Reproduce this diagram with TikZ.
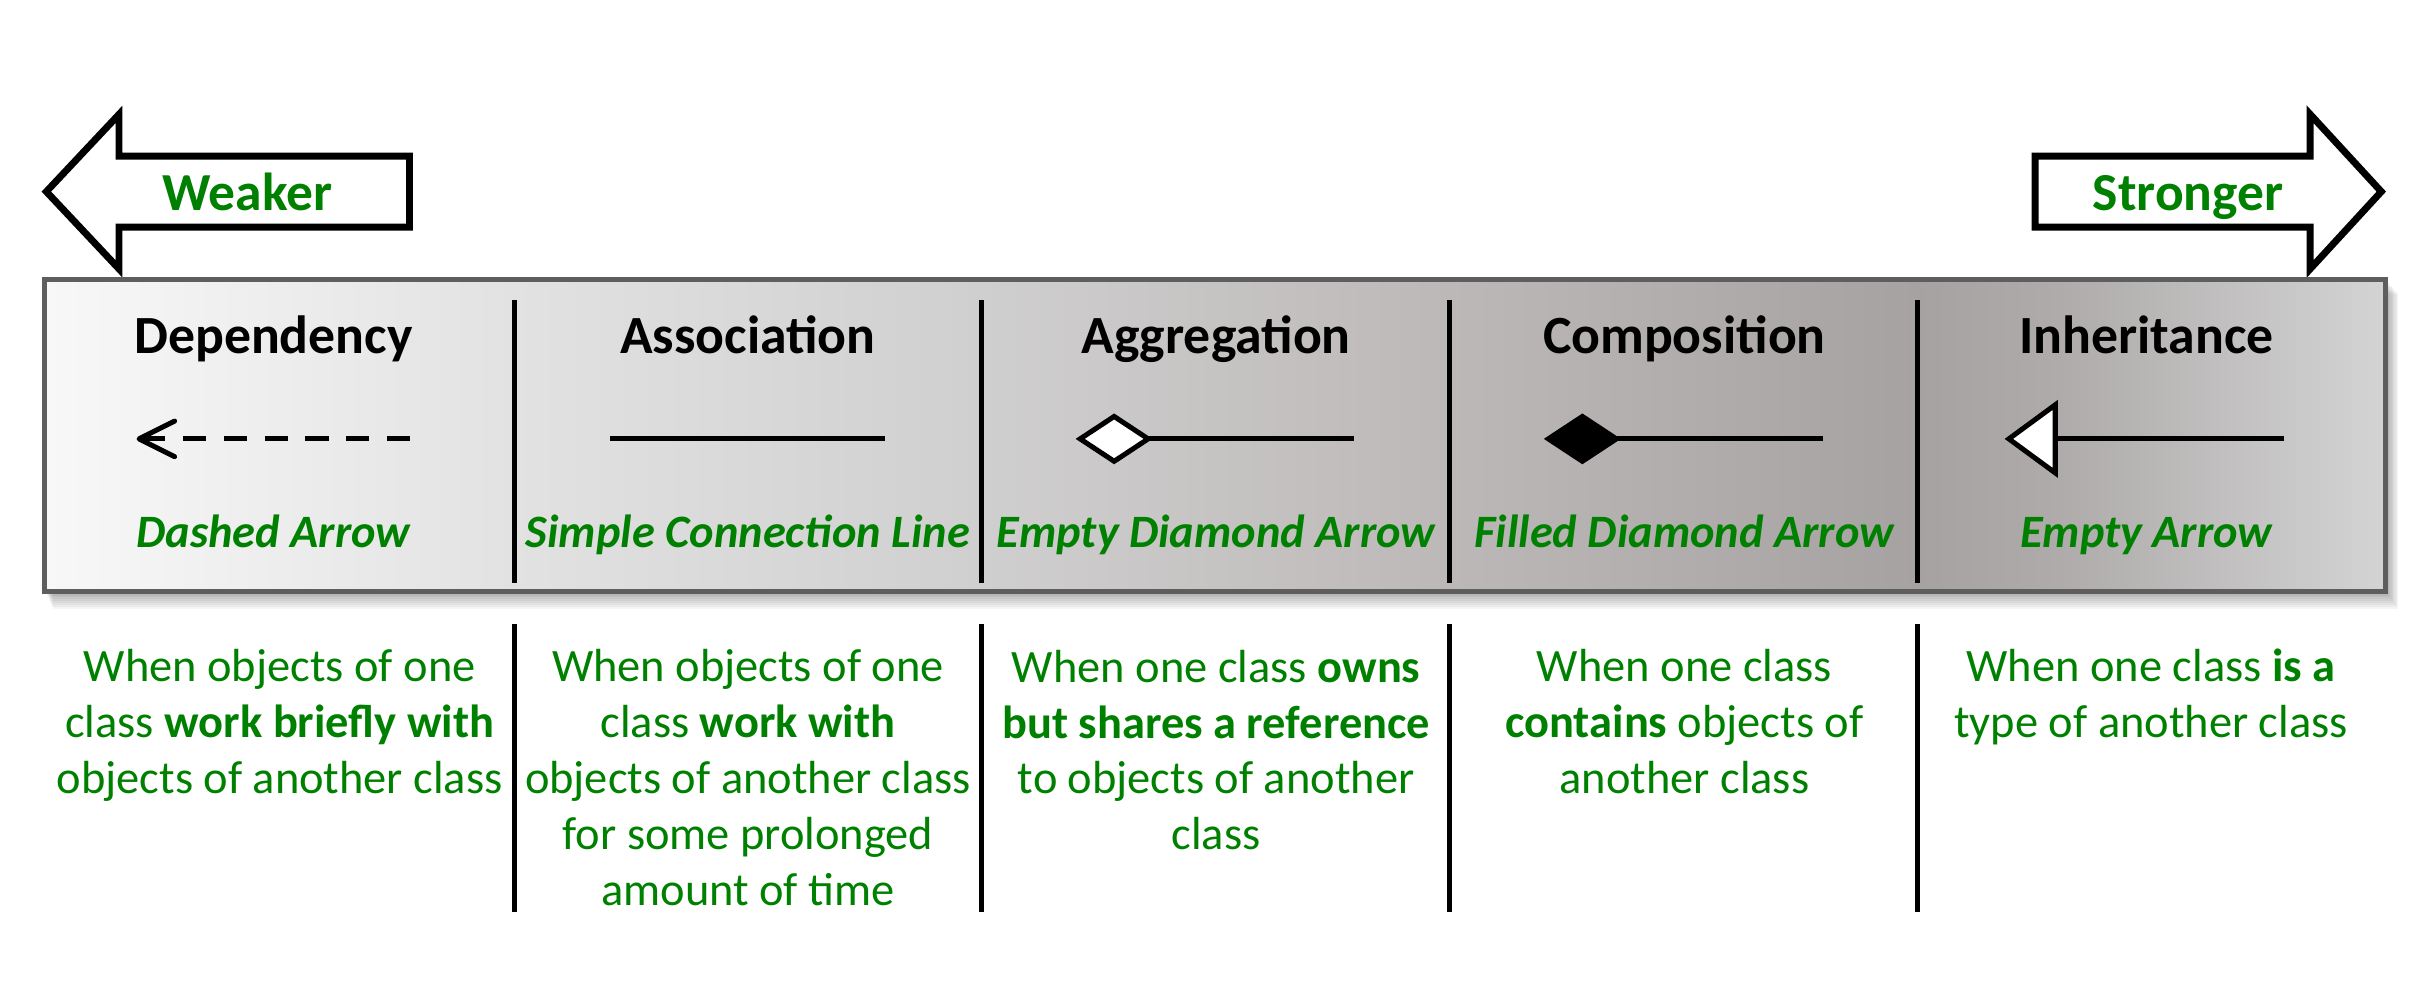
\documentclass[tikz,border=0pt]{standalone}
\usepackage{fontspec}
\setmainfont{Carlito}
\definecolor{relgreen}{HTML}{008000}
\definecolor{barborder}{HTML}{5E5E5E}
\definecolor{shA}{HTML}{F8F8F8}
\definecolor{shB}{HTML}{E2E2E2}
\definecolor{shC}{HTML}{D0CFCF}
\definecolor{shD}{HTML}{BCB8B7}
\definecolor{shE}{HTML}{A6A2A1}
\definecolor{shF}{HTML}{AEABAA}
\definecolor{shG}{HTML}{D4D4D4}
\pgfdeclarehorizontalshading{strengthbar}{100bp}{color(0bp)=(shA); color(25bp)=(shA); color(35bp)=(shB); color(45bp)=(shC); color(55bp)=(shD); color(65bp)=(shE); color(68bp)=(shF); color(75bp)=(shG); color(100bp)=(shG)}
\newcommand\relTitle{\fontsize{19.8}{23}\selectfont\bfseries}
\newcommand\relKind{\fontsize{17.1}{20.6}\selectfont\bfseries\itshape}
\newcommand\relDesc{\fontsize{17.1}{20.6}\selectfont}
\newcommand\relSide{\fontsize{19.7}{23}\selectfont\bfseries}

\begin{document}
\begin{tikzpicture}[x=0.2mm, y=-0.2mm,
	reltitle/.style={font=\relTitle, anchor=base, inner sep=0pt},
	relkind/.style={font=\relKind, text=relgreen, anchor=base, inner sep=0pt},
	reldesc/.style={font=\relDesc, text=relgreen, align=center, anchor=base, inner sep=0pt},
	relside/.style={font=\relSide, text=relgreen, anchor=base, inner sep=0pt},
	bigarrow/.style={draw=black, fill=white, line width=0.9mm, line join=miter},
	divider/.style={line width=0.6mm},
	sym/.style={line width=0.65mm}]
			%%%%% START %%%%%
			\useasboundingbox (0,0) rectangle (1568,647);
			
			% weaker / stronger
			\draw[bigarrow] (30,124) -- (77,74) -- (77,101) -- (265,101) -- (265,147) -- (77,147) -- (77,174) -- cycle;
			\node[relside] (weaker) at (160,136) {Weaker};
			\draw[bigarrow] (1541,124) -- (1495,74) -- (1495,101) -- (1317,101) -- (1317,147) -- (1495,147) -- (1495,174) -- cycle;
			\node[relside] (stronger) at (1416,136) {Stronger};
			
			% bar with soft shadow
			\foreach \d in {2,...,9}
				\fill[black, opacity=0.04] (29+\d*0.6, 181+\d) rectangle (1544+\d*0.9, 383+\d*1.2);
			\shade[shading=strengthbar] (29,181) rectangle (1544,383);
			\draw[barborder, line width=0.65mm] (29,181) rectangle (1544,383);
			
			\draw[divider] (333,194) -- (333,377);
			\draw[divider] (635,194) -- (635,377);
			\draw[divider] (938,194) -- (938,377);
			\draw[divider] (1241,194) -- (1241,377);
			
			\draw[divider] (333,404) -- (333,590);
			\draw[divider] (635,404) -- (635,590);
			\draw[divider] (938,404) -- (938,590);
			\draw[divider] (1241,404) -- (1241,590);
			
			% titles
			\node[reltitle] (dep) at (177,229) {Dependency};
			\node[reltitle] (asc) at (484,229) {Association};
			\node[reltitle] (agg) at (787,229) {Aggregation};
			\node[reltitle] (cmp) at (1090,229) {Composition};
			\node[reltitle] (inh) at (1389,229) {Inheritance};
			
			% symbols
			\draw[sym, dash pattern=on 3mm off 2.28mm] (92,284) -- (265.4,284);
			\draw[sym, line cap=round, line join=round] (113,272.5) -- (90,284) -- (113,295.5);
			
			\draw[sym] (395,284) -- (573,284);
			
			\draw[sym] (743,284) -- (876,284);
			\draw[sym, fill=white] (699,284) -- (721,269.5) -- (743,284) -- (721,298.5) -- cycle;
			
			\draw[sym] (1046,284) -- (1180,284);
			\draw[sym, fill=black] (1002,284) -- (1024,269.5) -- (1046,284) -- (1024,298.5) -- cycle;
			
			\draw[sym] (1330,284) -- (1478,284);
			\draw[sym, fill=white] (1300,284) -- (1330,262) -- (1330,306) -- cycle;
			
			% kinds of line
			\node[relkind] (dep-kind) at (177,354) {Dashed Arrow};
			\node[relkind] (asc-kind) at (484,354) {Simple Connection Line};
			\node[relkind] (agg-kind) at (787,354) {Empty Diamond Arrow};
			\node[relkind] (cmp-kind) at (1090,354) {Filled Diamond Arrow};
			\node[relkind] (inh-kind) at (1389,354) {Empty Arrow};
			
			% meanings (base = last line)
			\node[reldesc] (dep-desc) at (181,513.5) {When objects of one\\class \textbf{work briefly with}\\objects of another class};
			\node[reldesc] (asc-desc) at (484,586) {When objects of one\\class \textbf{work with}\\objects of another class\\for some prolonged\\amount of time};
			\node[reldesc] (agg-desc) at (787,550) {When one class \textbf{owns}\\\textbf{but shares a reference}\\to objects of another\\class};
			\node[reldesc] (cmp-desc) at (1090,513.5) {When one class\\\textbf{contains} objects of\\another class};
			\node[reldesc] (inh-desc) at (1392,477) {When one class \textbf{is a}\\type of another class};
			
			%%%%% END %%%%%
\end{tikzpicture}
\end{document}
